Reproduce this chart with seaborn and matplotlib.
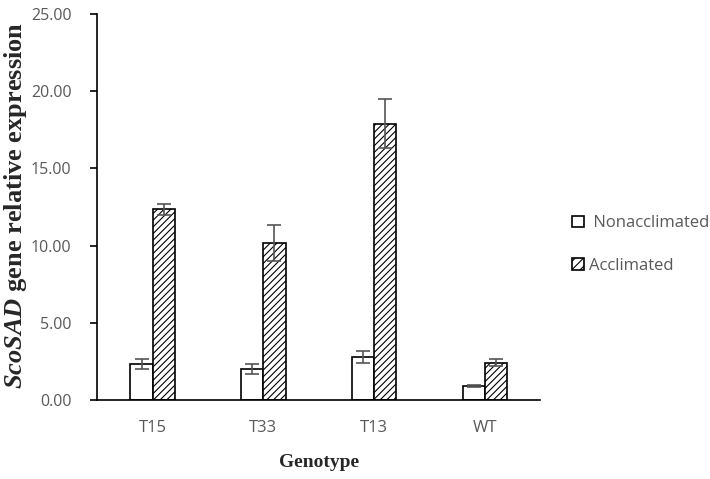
import matplotlib
matplotlib.use("Agg")
import matplotlib.pyplot as plt
from matplotlib.patches import Patch
import seaborn as sns
import pandas as pd

genotypes = ["T15", "T33", "T13", "WT"]
nonacclimated = [2.33, 1.98, 2.78, 0.92]
nonacclimated_err = [0.33, 0.33, 0.38, 0.08]
acclimated = [12.35, 10.15, 17.9, 2.42]
acclimated_err = [0.37, 1.17, 1.6, 0.25]
series = ["Nonacclimated", "Acclimated"]
yticks = [0, 5, 10, 15, 20, 25]

df = pd.DataFrame({
    "Genotype": genotypes * 2,
    "value": nonacclimated + acclimated,
    "Treatment": [series[0]] * 4 + [series[1]] * 4,
})

sns.set_style("white")
plt.rcParams["hatch.linewidth"] = 0.8
plt.rcParams["mathtext.fontset"] = "custom"
plt.rcParams["mathtext.it"] = "Liberation Serif:italic:bold"
plt.rcParams["mathtext.rm"] = "Liberation Serif:bold"

fig = plt.figure(figsize=(7.1, 4.79), dpi=100)
ax = fig.add_axes([0.137, 0.165, 0.624, 0.806])

sns.barplot(data=df, x="Genotype", y="value", hue="Treatment", order=genotypes,
            hue_order=series, palette=["white", "white"], width=0.4, dodge=True,
            edgecolor="black", linewidth=1.2, errorbar=None, legend=False, ax=ax,
            saturation=1)

errs = [nonacclimated_err, acclimated_err]
vals = [nonacclimated, acclimated]
bar_containers = list(ax.containers)
for i, cont in enumerate(bar_containers):
    xs = [p.get_x() + p.get_width() / 2 for p in cont]
    if i == 1:
        for p in cont:
            p.set_hatch("/////")
    ax.errorbar(xs, vals[i], yerr=errs[i], fmt="none", ecolor="#555555",
                elinewidth=1.2, capsize=5, capthick=1.2, zorder=5)

ax.set_xlim(-0.5, 3.5)
ax.set_ylim(0, 25)
ax.set_yticks(yticks)
ax.set_yticklabels([f"{v:.2f}" for v in yticks])
sns.despine(ax=ax)
for s in ["left", "bottom"]:
    ax.spines[s].set_color("black")
    ax.spines[s].set_linewidth(1.2)
ax.tick_params(axis="y", left=True, length=5, width=1.2, color="black",
               labelsize=11.5, labelcolor="#595959", pad=13.5)
ax.tick_params(axis="x", bottom=False, labelsize=12, labelcolor="#595959", pad=11)
for lab in ax.get_xticklabels() + ax.get_yticklabels():
    lab.set_family("Open Sans")

ax.set_xlabel("Genotype", family="Liberation Serif", fontweight="bold",
              fontsize=14, labelpad=13)
ax.set_ylabel(r"$\mathit{ScoSAD}$ gene relative expression", family="Liberation Serif",
              fontweight="bold", fontsize=19)
ax.yaxis.set_label_coords(-0.153, 0.505)

handles = [Patch(facecolor="white", edgecolor="black", linewidth=1.2),
           Patch(facecolor="white", edgecolor="black", linewidth=1.2, hatch="////")]
leg = fig.legend(handles, [" " + series[0], series[1]], loc="center left",
                 bbox_to_anchor=(0.785, 0.489),
                 frameon=False, handlelength=0.7, handleheight=0.7,
                 handletextpad=0.3, labelspacing=1.6,
                 prop={"family": "Open Sans", "size": 12})
for t in leg.get_texts():
    t.set_color("#595959")

fig.savefig("out.png", dpi=100)
